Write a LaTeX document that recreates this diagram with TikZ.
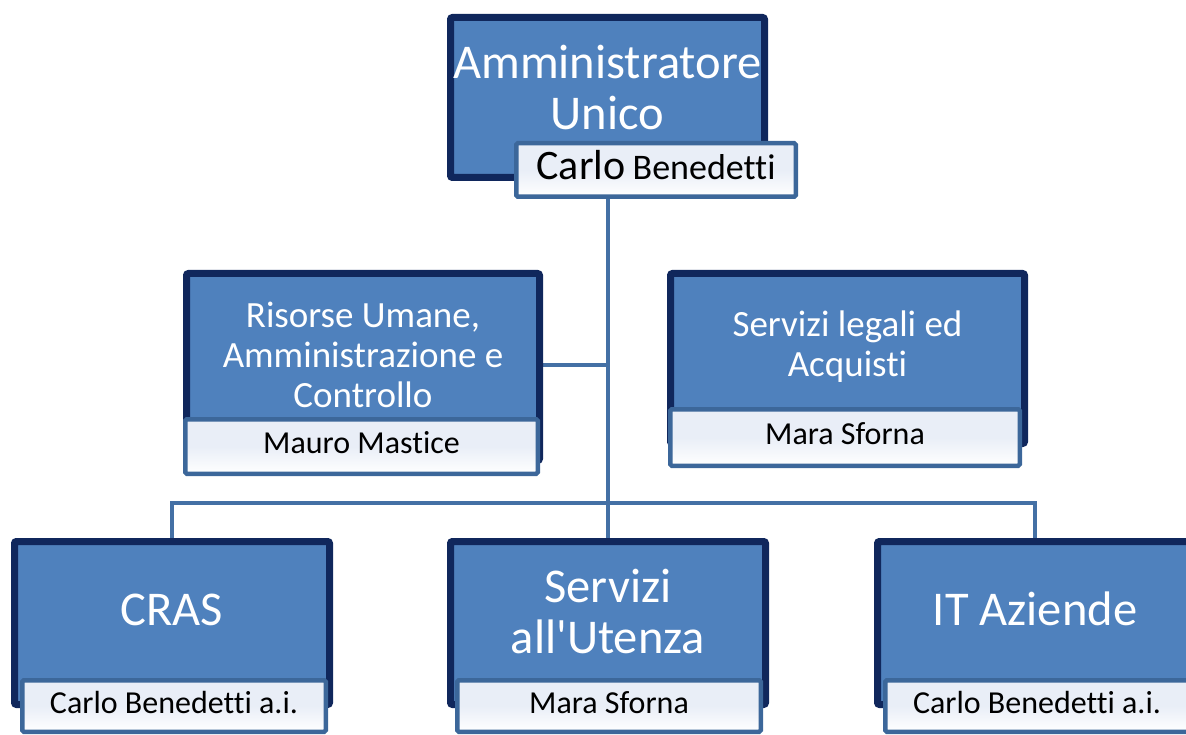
\documentclass[tikz,border=0pt]{standalone}
\usepackage{fontspec}
\setmainfont{Carlito}[Ligatures={TeXOff,CommonOff}]
\usetikzlibrary{backgrounds}
\definecolor{boxfill}{HTML}{4F81BD}
\definecolor{navy}{HTML}{10275C}
\definecolor{nameborder}{HTML}{3C679A}
\definecolor{nametop}{HTML}{E9EEF7}
\definecolor{conn}{HTML}{4470A5}
\tikzset{
  mainbox/.style={draw=navy, line width=7pt, fill=boxfill, rounded corners=2pt, inner sep=0pt},
  namebox/.style={draw=nameborder, line width=4.5pt, top color=nametop, bottom color=white, middle color=nametop, rounded corners=1.5pt, inner sep=0pt, text=black,
     font=\fontsize{32}{35}\selectfont, text height=22pt, text depth=8pt},
  bigtxt/.style={text=white, align=center, font=\fontsize{48.5}{51}\selectfont, inner sep=0pt},
  midtxt/.style={text=white, align=center, font=\fontsize{37}{40}\selectfont, inner sep=0pt},
  connector/.style={draw=conn, line width=4pt},
}
\begin{document}
\begin{tikzpicture}[x=1pt,y=-1pt]
\useasboundingbox (0,0) rectangle (1186,735);
% main boxes
\node[mainbox, minimum width=314pt, minimum height=160pt] (top) at (607.5,97.5) {};
\node[mainbox, minimum width=353pt, minimum height=187pt] (lm) at (363,367) {};
\node[mainbox, minimum width=354pt, minimum height=170pt] (rm) at (847.5,358.5) {};
\node[mainbox, minimum width=315pt, minimum height=163pt] (cras) at (172,623) {};
\node[mainbox, minimum width=315pt, minimum height=163pt] (su) at (608,623) {};
\node[mainbox, minimum width=315pt, minimum height=163pt] (it) at (1035,623) {};
% main labels
\node[bigtxt] (topt) at (607.5,87) {Amministratore\\Unico};
\node[midtxt] (lmt) at (363,355) {Risorse Umane,\\Amministrazione e\\Controllo};
\node[midtxt] (rmt) at (847.5,347) {Servizi legali ed\\Acquisti};
\node[bigtxt, anchor=base] (crast) at (172,625) {CRAS};
\node[bigtxt] (sut) at (608,611) {Servizi\\all'Utenza};
\node[bigtxt, anchor=base] (itt) at (1035,625) {IT Aziende};
% name boxes
\node[namebox, minimum width=279.5pt, minimum height=53.5pt, text height=28pt, text depth=8pt] (topn) at (656,170)
  {{\fontsize{42}{46}\selectfont Carlo} {\fontsize{36}{40}\selectfont Benedetti}};
\node[namebox, minimum width=352.5pt, minimum height=54.5pt] (lmn) at (361.5,446.5) {Mauro Mastice};
\node[namebox, minimum width=349.5pt, minimum height=56.5pt] (rmn) at (845,437.5) {Mara Sforna};
\node[namebox, minimum width=303.5pt, minimum height=51.5pt] (crasn) at (174,706) {Carlo Benedetti a.i.};
\node[namebox, minimum width=303.5pt, minimum height=51.5pt] (sun) at (609,706) {Mara Sforna};
\node[namebox, minimum width=303.5pt, minimum height=51.5pt] (itn) at (1037,706) {Carlo Benedetti a.i.};
% connectors
\coordinate (bus) at (607.5,503);
\coordinate (lmj) at (607.5,365);
\begin{pgfonlayer}{background}
\draw[connector] (top.center) -- (top.center |- su.north);
\draw[connector] (lm.east |- lmj) -- (lmj);
\draw[connector] (cras.north) |- (bus) -| (it.north);
\end{pgfonlayer}
\end{tikzpicture}
\end{document}
